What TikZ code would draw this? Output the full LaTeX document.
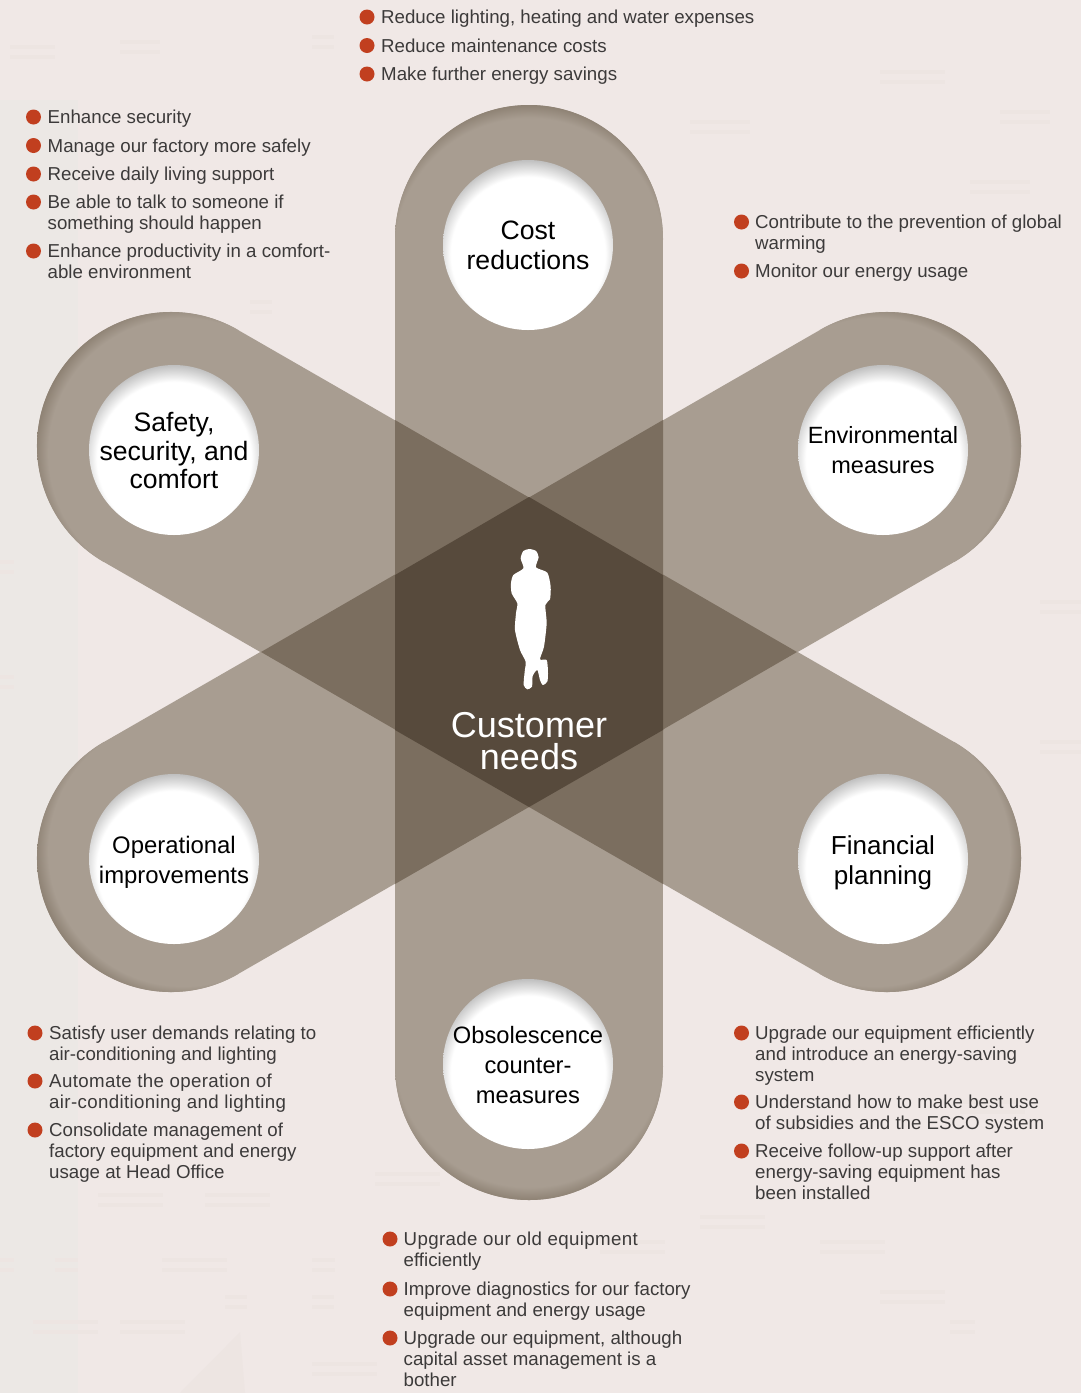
\documentclass[tikz,border=0pt]{standalone}
\usepackage{fontspec}
\setmainfont{Liberation Sans}
\definecolor{bgc}{HTML}{F0E8E6}
\definecolor{bgleft}{HTML}{ECE8E5}
\definecolor{texc}{HTML}{EDE5E2}
\definecolor{one}{HTML}{A89D91}
\definecolor{onedark}{HTML}{8E8274}
\definecolor{two}{HTML}{7B6E5F}
\definecolor{three}{HTML}{574A3C}
\definecolor{dotc}{HTML}{C13F1F}
\definecolor{bodyc}{HTML}{3C3A3A}
\pgfdeclareradialshading{capend}{\pgfpoint{0bp}{0bp}}{color(0bp)=(one); color(22.8bp)=(one); color(25bp)=(onedark); color(50bp)=(onedark)}
\pgfdeclareradialshading{holeshade}{\pgfpoint{0bp}{0bp}}{color(0bp)=(white); color(20.5bp)=(white); color(25bp)=(black!25); color(50bp)=(black!25)}
\tikzset{
  capsule/.style={draw=one,line width=268pt,line cap=round},
  dotmark/.style={circle,fill=dotc,draw=none,minimum size=15pt,inner sep=0pt},
  itemtext/.style={anchor=north west,inner sep=0pt,align=left,text=bodyc,font=\fontsize{18.7}{21}\selectfont},
  hubtext/.style={align=center,text=black,inner sep=0pt},
}
\newcommand{\lsp}[1]{{\addfontfeature{LetterSpace=1.9}#1}}
% \capend{x}{y}{dx}{dy}: shaded end of a capsule, (dx,dy) unit vector pointing out
\newcommand{\capend}[4]{%
  \begin{scope}
    \clip (#1,#2) circle[radius=134];
    \clip ({#1-300*(#4)},{#2+300*(#3)}) -- ({#1+300*(#4)},{#2-300*(#3)}) -- ({#1+300*(#4)+300*(#3)},{#2-300*(#3)+300*(#4)}) -- ({#1-300*(#4)+300*(#3)},{#2+300*(#3)+300*(#4)}) -- cycle;
    \path[shade,shading=capend] ({#1-14*(#3)},{#2-14*(#4)}) circle[radius=148];
  \end{scope}}
% \hub{name}{x}{y}{textdy}{fontsize}{leading}{text}
\newcommand{\hub}[7]{%
  \begin{scope}
    \clip (#2,#3) circle[radius=85];
    \path[shade,shading=holeshade] (#2,#3+9) circle[radius=94];
  \end{scope}
  \node[hubtext,font=\fontsize{#5}{#6}\selectfont] (#1) at (#2,#3+#4) {#7};}
% \bul{name}{dotx}{textx}{y}{text}
\newcommand{\bul}[5]{%
  \node[dotmark] (#1d) at (#2,#4) {};
  \node[itemtext] (#1) at (#3,#4-8) {\strut #5};}
\begin{document}
\begin{tikzpicture}[x=1pt,y=-1pt]
\useasboundingbox (0,0) rectangle (1081,1393);
\fill[bgc] (0,0) rectangle (1081,1393);
\fill[bgleft] (0,100) rectangle (78,1393);
% faint background texture
\foreach \tx/\ty/\tw in {98/1193/65,205/1193/65,0/1258/14,55/1258/23,162/1258/65,312/1258/23,33/1320/65,120/1320/65,225/1295/22,312/1295/22,312/1362/65,375/1172/65,
  312/35/22,120/40/40,10/45/45,250/300/22,690/120/60,880/70/65,1000/110/50,970/180/60,
  0/560/14,0/675/14,1040/600/41,1040/740/41,700/1215/65,820/1240/65,950/1320/25,880/1290/65,600/1240/65,960/1100/65}{
  \fill[texc] (\tx,\ty) rectangle ++(\tw,4);
  \fill[texc] (\tx,\ty+10) rectangle ++(\tw,4);
}
\fill[texc] (180,1393) -- (240,1332) -- (245,1393) -- cycle;
% capsules
\draw[capsule] (529,239) -- (529,1066);
\draw[capsule] (171,446) -- (887,858);
\draw[capsule] (887,446) -- (171,858);
% shaded ends
\capend{529}{239}{0}{-1}
\capend{529}{1066}{0}{1}
\capend{171}{446}{-0.866}{-0.5}
\capend{887}{858}{0.866}{0.5}
\capend{887}{446}{0.866}{-0.5}
\capend{171}{858}{-0.866}{0.5}
% overlaps
\fill[two] (395,420) -- (663,575) -- (663,884) -- (395,730) -- cycle;
\fill[two] (663,420) -- (395,575) -- (395,884) -- (663,730) -- cycle;
\fill[two] (529,497) -- (797,652) -- (529,807) -- (261,652) -- cycle;
\fill[three] (529,497) -- (663,575) -- (663,730) -- (529,807) -- (395,730) -- (395,575) -- cycle;
% silhouette
\begin{scope}[shift={(430pt,-490pt)},x=0.3333pt,y=-0.3333pt]
\fill[white] plot[smooth cycle,tension=0.4] coordinates {
 (298,177) (318,183) (326,202) (318,232) (352,248) (362,290) (360,328) (346,345)
 (350,400) (342,470) (330,508) (350,510) (354,545) (352,575) (338,585) (330,570) (322,540)
 (308,558) (306,590) (292,598) (281,585) (284,545) (287,515) (270,480) (255,420)
 (258,370) (262,340) (245,310) (243,280) (250,255) (280,235) (272,205) (280,183)};
\end{scope}
\node[align=center,text=white,inner sep=0pt,font=\fontsize{36}{32}\selectfont] (centre) at (529,741) {Customer\\needs};
% hubs
\hub{cost}{528}{245}{0}{26.6}{30}{Cost\\reductions}
\hub{safety}{174}{450}{0.5}{26.6}{28.5}{Safety,\\security, and\\comfort}
\hub{env}{883}{450}{0.5}{23.5}{30}{Environmental\\measures}
\hub{oper}{174}{859}{3}{23.9}{30}{Operational\\improvements}
\hub{fin}{883}{859}{3.5}{26}{30}{Financial\\planning}
\hub{obs}{528}{1064}{1}{23.7}{30}{Obsolescence\\counter-\\measures}
% lists
\bul{a1}{367}{381}{17}{Reduce lighting, heating and water expenses}
\bul{a2}{367}{381}{45.5}{Reduce maintenance costs}
\bul{a3}{367}{381}{74}{Make further energy savings}
\bul{b1}{33.5}{47.5}{117}{Enhance security}
\bul{b2}{33.5}{47.5}{145.5}{Manage our factory more safely}
\bul{b3}{33.5}{47.5}{174}{Receive daily living support}
\bul{b4}{33.5}{47.5}{202}{Be able to talk to someone if\\something should happen}
\bul{b5}{33.5}{47.5}{251}{Enhance productivity in a comfort-\\able environment}
\bul{c1}{741.5}{755}{222}{Contribute to the prevention of global\\warming}
\bul{c2}{741.5}{755}{271}{Monitor our energy usage}
\bul{d1}{35}{49}{1033}{Satisfy user demands relating to\\air-conditioning and lighting}
\bul{d2}{35}{49}{1081}{\lsp{Automate the operation of}\\\lsp{air-conditioning and lighting}}
\bul{d3}{35}{49}{1130}{Consolidate management of\\factory equipment and energy\\usage at Head Office}
\bul{e1}{741.5}{755}{1033}{Upgrade our equipment efficiently\\and introduce an energy-saving\\system}
\bul{e2}{741.5}{755}{1102}{Understand how to make best use\\of subsidies and the ESCO system}
\bul{e3}{741.5}{755}{1151}{Receive follow-up support after\\energy-saving equipment has\\been installed}
\bul{f1}{390}{403.5}{1239}{\lsp{Upgrade our old equipment}\\efficiently}
\bul{f2}{390}{403.5}{1289}{Improve diagnostics for our factory\\equipment and energy usage}
\bul{f3}{390}{403.5}{1338}{Upgrade our equipment, although\\capital asset management is a\\bother}
\end{tikzpicture}
\end{document}
